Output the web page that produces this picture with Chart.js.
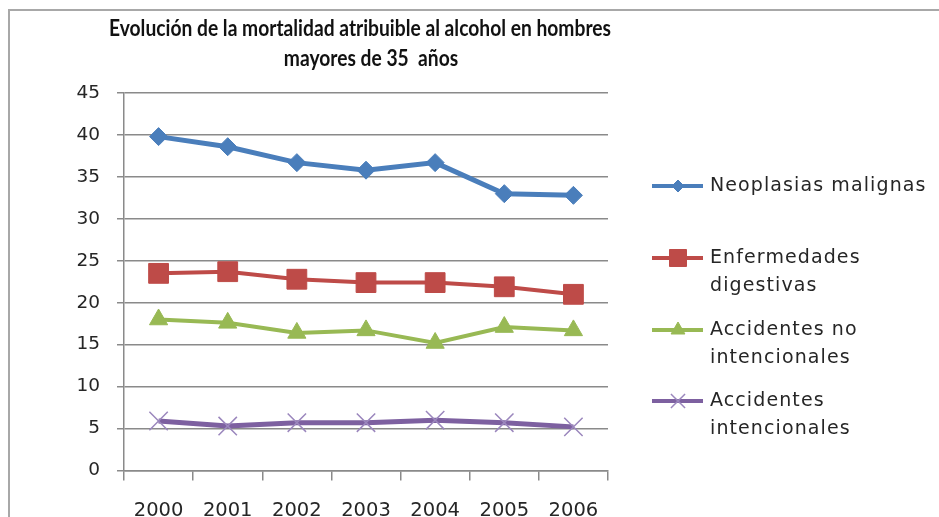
<!DOCTYPE html>
<html><head><meta charset="utf-8">
<script src="https://cdn.jsdelivr.net/npm/chart.js@4"></script>
<style>html,body{margin:0;padding:0;background:#fff;}canvas{display:block}</style>
</head><body>
<canvas id="c" width="939" height="517"></canvas>
<script>
const categories = ['2000', '2001', '2002', '2003', '2004', '2005', '2006'];
const neoplasias = [39.8, 38.6, 36.7, 35.8, 36.7, 33.0, 32.8];
const enfermedades = [23.5, 23.7, 22.8, 22.4, 22.4, 21.9, 21.0];
const accNoIntencionales = [18.0, 17.6, 16.4, 16.7, 15.2, 17.1, 16.7];
const accIntencionales = [5.9, 5.3, 5.7, 5.7, 6.0, 5.7, 5.2];
const yMin = 0, yMax = 45, yStep = 5;
const titleLines = ['Evolución de la mortalidad atribuible al alcohol en hombres', 'mayores de 35  años'];
const seriesNames = [['Neoplasias malignas'], ['Enfermedades', 'digestivas'], ['Accidentes no', 'intencionales'], ['Accidentes', 'intencionales']];

const TXT = '#262626';
const GRID = '#8a8a8a';
const FONT = '"DejaVu Sans", Verdana, sans-serif';

const framePlugin = {
  id: 'frame',
  beforeDraw(chart) {
    const ctx = chart.ctx;
    ctx.save();
    ctx.strokeStyle = '#a8a8a8';
    ctx.lineWidth = 2;
    ctx.beginPath();
    ctx.moveTo(9, 517);
    ctx.lineTo(9, 10);
    ctx.lineTo(939, 10);
    ctx.stroke();
    ctx.restore();
  }
};

const titlePlugin = {
  id: 'customTitle',
  afterDraw(chart) {
    const ctx = chart.ctx;
    ctx.save();
    ctx.font = 'bold 22px Lato, "Liberation Sans", Arial, sans-serif';
    ctx.fillStyle = '#111';
    ctx.textAlign = 'center';
    ctx.textBaseline = 'middle';
    const w0 = ctx.measureText(titleLines[0]).width;
    const sx = 502 / w0;
    const pos = [[360, 29], [371, 59]];
    titleLines.forEach((t, i) => {
      ctx.save();
      ctx.translate(pos[i][0], pos[i][1]);
      ctx.scale(sx, 1);
      ctx.fillText(t, 0, 0);
      ctx.restore();
    });
    ctx.restore();
  }
};

const legendPlugin = {
  id: 'customLegend',
  afterDraw(chart) {
    const ctx = chart.ctx;
    const rows = [186, 258, 330, 401];
    const lineGap = 28.5;
    ctx.save();
    chart.data.datasets.forEach((ds, i) => {
      const y = rows[i];
      ctx.strokeStyle = ds.borderColor;
      ctx.lineWidth = 4;
      ctx.beginPath();
      ctx.moveTo(652, y);
      ctx.lineTo(703, y);
      ctx.stroke();
      ctx.fillStyle = ds.pointBackgroundColor;
      ctx.strokeStyle = ds.pointBorderColor;
      ctx.lineWidth = ds.pointBorderWidth;
      Chart.helpers.drawPoint(ctx, {pointStyle: ds.pointStyle, radius: ds.legendRadius, rotation: 0, borderWidth: ds.pointBorderWidth}, 678, y);
      ctx.fillStyle = TXT;
      ctx.font = '19px ' + FONT;
      ctx.letterSpacing = '1.1px';
      ctx.textAlign = 'left';
      ctx.textBaseline = 'middle';
      seriesNames[i].forEach((t, j) => ctx.fillText(t, 710, y + j * lineGap));
      ctx.letterSpacing = '0px';
    });
    ctx.restore();
  }
};

new Chart(document.getElementById('c'), {
  type: 'line',
  data: {
    labels: categories,
    datasets: [
      {label: seriesNames[0].join(' '), data: neoplasias, borderColor: '#4A7EBB', borderWidth: 5,
       pointStyle: 'rectRot', pointRadius: 9, pointHoverRadius: 9, pointBackgroundColor: '#4A7EBB', pointBorderColor: '#4A7EBB', pointBorderWidth: 1, legendRadius: 6},
      {label: seriesNames[1].join(' '), data: enfermedades, borderColor: '#BE4B48', borderWidth: 4,
       pointStyle: 'rect', pointRadius: 14, pointHoverRadius: 14, pointBackgroundColor: '#BE4B48', pointBorderColor: '#BE4B48', pointBorderWidth: 1, legendRadius: 12},
      {label: seriesNames[2].join(' '), data: accNoIntencionales, borderColor: '#98B954', borderWidth: 4,
       pointStyle: 'triangle', pointRadius: 10.5, pointHoverRadius: 10.5, pointBackgroundColor: '#98B954', pointBorderColor: '#98B954', pointBorderWidth: 1, legendRadius: 8},
      {label: seriesNames[3].join(' '), data: accIntencionales, borderColor: '#7D60A0', borderWidth: 5,
       pointStyle: 'crossRot', pointRadius: 13, pointHoverRadius: 13, pointBackgroundColor: '#9B87BD', pointBorderColor: '#9B87BD', pointBorderWidth: 1.5, legendRadius: 10}
    ]
  },
  options: {
    responsive: false,
    animation: false,
    devicePixelRatio: 1,
    layout: {padding: {left: 0, top: 93, right: 331, bottom: 0}},
    plugins: {legend: {display: false}, title: {display: false}, tooltip: {enabled: false}},
    elements: {line: {tension: 0}},
    scales: {
      x: {
        offset: true,
        grid: {display: true, drawOnChartArea: false, offset: true, tickLength: 10, color: GRID, lineWidth: 1.5},
        border: {display: true, color: GRID, width: 1.5},
        ticks: {color: TXT, font: {family: FONT, size: 19.5}, padding: 19, maxRotation: 0, autoSkip: false},
        afterFit(s) { s.height = 46.5; }
      },
      y: {
        min: yMin, max: yMax,
        grid: {color: GRID, lineWidth: 1.5, tickLength: 7},
        border: {display: true, color: GRID, width: 1.5},
        ticks: {stepSize: yStep, color: TXT, font: {family: FONT, size: 18.5}, padding: 17},
        afterFit(s) { s.width = 124; }
      }
    }
  },
  plugins: [framePlugin, titlePlugin, legendPlugin]
});
</script>
</body></html>
